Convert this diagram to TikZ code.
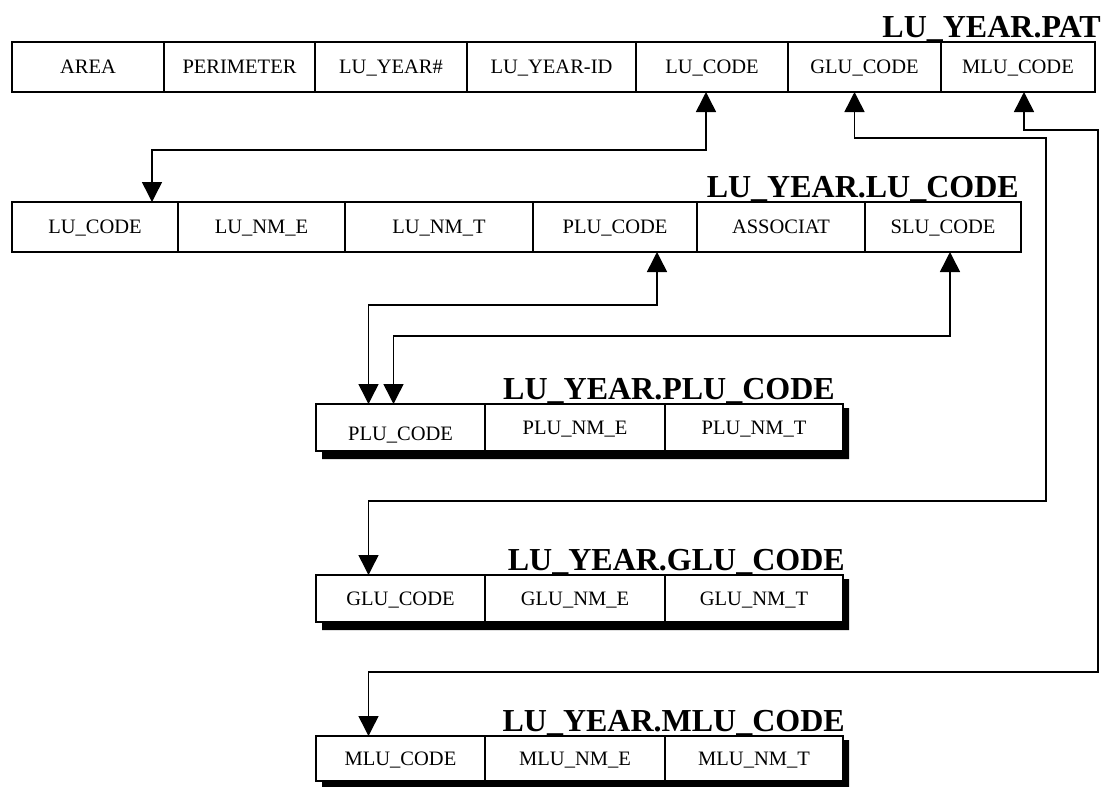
\documentclass[tikz,border=0pt]{standalone}
\usepackage{fontspec}
\setmainfont{Liberation Serif}
\usetikzlibrary{arrows.meta,calc}

\tikzset{
	cell/.style={draw, line width=2pt, fill=white, anchor=north west, minimum height=50pt, inner sep=0pt, outer sep=0pt, text height=13.8pt, text depth=0pt, font=\fontsize{20.5}{20.5}\selectfont},
	tabtitle/.style={anchor=base east, inner sep=0pt, font=\fontsize{32}{32}\selectfont\bfseries},
	link/.style={line width=1.5pt, {Triangle[width=20pt,length=20pt]}-{Triangle[width=20pt,length=20pt]}},
}

\begin{document}
\begin{tikzpicture}[x=1pt, y=-1pt]
			%%%%% START %%%%%
			\useasboundingbox (0,0) rectangle (1117,787);
			
			\node[cell, minimum width=152pt] (pat1) at (12,42) {AREA};
			\node[cell, minimum width=151pt] (pat2) at (pat1.north east) {PERIMETER};
			\node[cell, minimum width=152pt] (pat3) at (pat2.north east) {LU\_YEAR\#};
			\node[cell, minimum width=169pt] (pat4) at (pat3.north east) {LU\_YEAR-ID};
			\node[cell, minimum width=152pt] (pat5) at (pat4.north east) {LU\_CODE};
			\node[cell, minimum width=153pt] (pat6) at (pat5.north east) {GLU\_CODE};
			\node[cell, minimum width=154pt] (pat7) at (pat6.north east) {MLU\_CODE};
			\node[tabtitle] (pattitle) at ($(pat7.north east)+(6,-5)$) {LU\_YEAR.PAT};
			
			\node[cell, minimum width=166pt] (lu1) at (12,202) {LU\_CODE};
			\node[cell, minimum width=167pt] (lu2) at (lu1.north east) {LU\_NM\_E};
			\node[cell, minimum width=188pt] (lu3) at (lu2.north east) {LU\_NM\_T};
			\node[cell, minimum width=164pt] (lu4) at (lu3.north east) {PLU\_CODE};
			\node[cell, minimum width=168pt] (lu5) at (lu4.north east) {ASSOCIAT};
			\node[cell, minimum width=156pt] (lu6) at (lu5.north east) {SLU\_CODE};
			\node[tabtitle] (lutitle) at ($(lu6.north east)+(-2,-5)$) {LU\_YEAR.LU\_CODE};
			
			\node[cell, minimum width=169pt, minimum height=47pt] (plu1) at (316,404) {\raisebox{-6pt}{PLU\_CODE}};
			\node[cell, minimum width=180pt, minimum height=47pt] (plu2) at (plu1.north east) {PLU\_NM\_E};
			\node[cell, minimum width=178pt, minimum height=47pt] (plu3) at (plu2.north east) {PLU\_NM\_T};
			\node[tabtitle] (plutitle) at ($(plu3.north east)+(-8,-5)$) {LU\_YEAR.PLU\_CODE};
			\fill ($(plu3.north east)+(0,4)$) -- ++(6,0) |- ($(plu1.south west)+(6,8)$) -- ++(0,-8) -- (plu3.south east) -- cycle;
			
			\node[cell, minimum width=169pt, minimum height=47pt] (glu1) at (316,575) {GLU\_CODE};
			\node[cell, minimum width=180pt, minimum height=47pt] (glu2) at (glu1.north east) {GLU\_NM\_E};
			\node[cell, minimum width=178pt, minimum height=47pt] (glu3) at (glu2.north east) {GLU\_NM\_T};
			\node[tabtitle] (glutitle) at ($(glu3.north east)+(2,-5)$) {LU\_YEAR.GLU\_CODE};
			\fill ($(glu3.north east)+(0,4)$) -- ++(6,0) |- ($(glu1.south west)+(6,8)$) -- ++(0,-8) -- (glu3.south east) -- cycle;
			
			\node[cell, minimum width=169pt, minimum height=45pt] (mlu1) at (316,736) {MLU\_CODE};
			\node[cell, minimum width=180pt, minimum height=45pt] (mlu2) at (mlu1.north east) {MLU\_NM\_E};
			\node[cell, minimum width=178pt, minimum height=45pt] (mlu3) at (mlu2.north east) {MLU\_NM\_T};
			\node[tabtitle] (mlutitle) at ($(mlu3.north east)+(2,-5)$) {LU\_YEAR.MLU\_CODE};
			\fill ($(mlu3.north east)+(0,4)$) -- ++(6,0) |- ($(mlu1.south west)+(6,8)$) -- ++(0,-8) -- (mlu3.south east) -- cycle;
			
			\coordinate (gluturn) at (1046,501);
			\coordinate (mluturn) at (1098,672);
			
			\draw[link] ([xshift=-6pt]pat5.south) -- ++(0,58) -| ([xshift=57pt]lu1.north);
			\draw[link] ([xshift=-10pt]pat6.south) -- ++(0,46) -| (gluturn) -| ([xshift=-32pt]glu1.north);
			\draw[link] ([xshift=6pt]pat7.south) -- ++(0,38) -| (mluturn) -| ([xshift=-32pt]mlu1.north);
			
			\draw[link] ([xshift=42pt]lu4.south) -- ++(0,53) -| ([xshift=-32pt]plu1.north);
			\draw[link] ([xshift=7pt]lu6.south) -- ++(0,84) -| ([xshift=-7pt]plu1.north);
			
			%%%%% END %%%%%
\end{tikzpicture}
\end{document}
